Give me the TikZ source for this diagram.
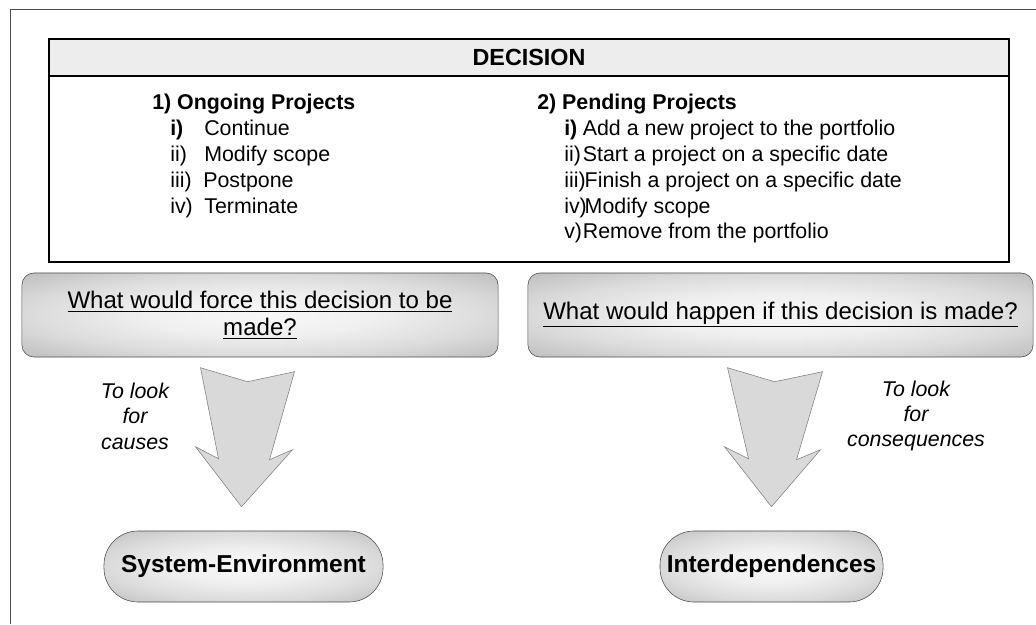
\documentclass[tikz,border=0pt]{standalone}
\usepackage{fontspec}
\setmainfont{Liberation Sans}
\usetikzlibrary{positioning}
\pgfdeclareradialshading{softglow}{\pgfpoint{0bp}{0bp}}{color(0bp)=(black!3); color(12bp)=(black!6); color(24bp)=(black!14); color(34bp)=(black!24); color(50bp)=(black!30)}

\begin{document}
\begin{tikzpicture}[x=0.025cm,y=-0.025cm]
\tikzstyle{every node}+=[inner sep=0pt]
\tikzstyle{item}=[anchor=west,font=\fontsize{15.2}{18}\selectfont]
\tikzstyle{listhead}=[anchor=west,font=\fontsize{15.2}{18}\selectfont\bfseries]
\tikzstyle{qbox}=[draw=black!70,rounded corners=0.3cm,shading=softglow,align=center,font=\fontsize{17.1}{19.2}\selectfont]
\tikzstyle{endbox}=[draw=black!70,rounded corners=0.85cm,shading=softglow,font=\fontsize{17.4}{20}\selectfont\bfseries]
\tikzstyle{note}=[align=center,font=\fontsize{15.2}{18.1}\selectfont\itshape]
\tikzstyle{bigarrow}=[draw=black!50,fill=black!15]
\useasboundingbox (0,0) rectangle (1036,624);
% frame
\draw [black!70] (10,624) -- (10,9) -- (1036,9);
% decision box
\fill [black!7] (49,39) rectangle (1009,76);
\draw [line width=2.1pt] (49,39) rectangle (1009,262);
\draw [line width=2.1pt] (49,76) -- (1009,76);
\node [font=\fontsize{16.6}{20}\selectfont\bfseries] (decision) at (529,57.5) {DECISION};
% ongoing projects
\node [listhead] (ongoing) at (152,104.5) {1) Ongoing Projects};
\node [item] (on1) at (170,130) {\makebox[24.2pt][l]{\bfseries i)}Continue};
\node [item] (on2) at (170,156) {\makebox[24.2pt][l]{ii)}Modify scope};
\node [item] (on3) at (170,181.7) {\makebox[23.5pt][l]{iii)}Postpone};
\node [item] (on4) at (170,207.5) {\makebox[24.2pt][l]{iv)}Terminate};
% pending projects
\node [listhead] (pending) at (537,104.5) {2) Pending Projects};
\node [item] (pe1) at (564,130) {\makebox[13.2pt][l]{\bfseries i)}Add a new project to the portfolio};
\node [item] (pe2) at (564,156) {\makebox[13.2pt][l]{ii)}Start a project on a specific date};
\node [item] (pe3) at (564,181.7) {\makebox[12pt][l]{iii)}\,Finish a project on a specific date};
\node [item] (pe4) at (564,207.5) {\makebox[12pt][l]{iv)}\,Modify scope};
\node [item] (pe5) at (564,233) {\makebox[13.2pt][l]{v)}Remove from the portfolio};
% questions
\node [qbox,minimum width=11.9cm,minimum height=2.1cm] (force) at (260,315) {\underline{What would force this decision to be}\\\underline{made?}};
\node [qbox,minimum width=12.625cm,minimum height=2.1cm] (happen) at (780.5,315) {\underline{What would happen if this decision is made?}};
% targets
\node [endbox,minimum width=6.975cm,minimum height=1.775cm] (sysenv) at (243.5,566.5) {System-Environment};
\node [endbox,minimum width=5.575cm,minimum height=1.775cm] (interdep) at (771.5,566.5) {Interdependences};
% arrows
\draw [bigarrow,shift={(sysenv.north)}] (-43,-163) -- (4,-149) -- (51,-159) -- (26,-71) -- (49,-81) -- (-2,-24) -- (-48,-84) -- (-25,-72) -- cycle;
\draw [bigarrow,shift={(interdep.north)}] (-44,-163) -- (3,-149) -- (51,-159) -- (25,-71) -- (49,-81) -- (0,-24) -- (-47,-84) -- (-23,-72) -- cycle;
\node [note] (causes) at (135,416) {To look\\for\\causes};
\node [note] (conseq) at (916,416) {To look\\for\\consequences};
\end{tikzpicture}
\end{document}
